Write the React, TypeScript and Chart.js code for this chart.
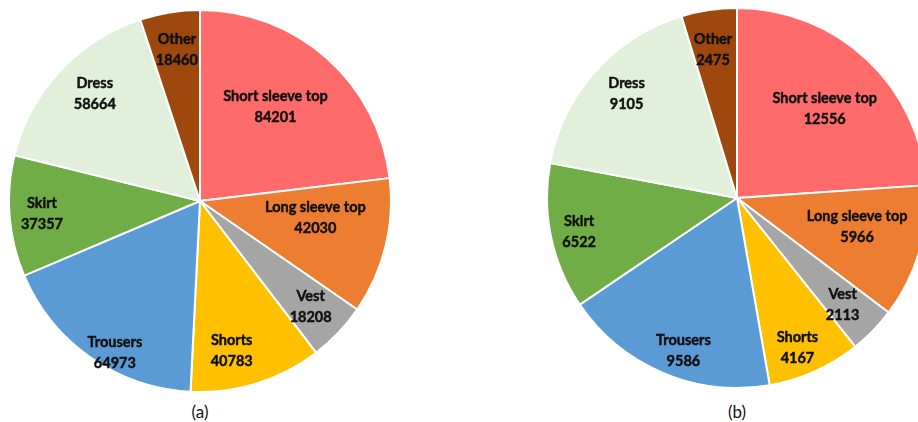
import React, { useEffect, useRef } from "react";
import { Chart, registerables } from "chart.js";
Chart.register(...registerables);

const categories = ["Short sleeve top", "Long sleeve top", "Vest", "Shorts", "Trousers", "Skirt", "Dress", "Other"];
const valuesA = [84201, 42030, 18208, 40783, 64973, 37357, 58664, 18460];
const valuesB = [12556, 5966, 2113, 4167, 9586, 6522, 9105, 2475];
const panelLabels = ["(a)", "(b)"];
const sliceColors = ["#FF6B6B", "#ED7D31", "#A5A5A5", "#FFC000", "#5B9BD5", "#70AD47", "#E2EFDA", "#9E480E"];

// label placement (radius fraction, angle offset in degrees) per slice
const labelRadiiA = [0.63, 0.61, 0.8, 0.8, 0.91, 0.83, 0.785, 0.8];
const labelAngleA = [-2.7, -5.8, 0, 5.3, -5.6, 0, 2.6, 0.4];
const labelRadiiB = [0.66, 0.65, 0.79, 0.85, 0.85, 0.85, 0.8, 0.79];
const labelAngleB = [1.3, -3.1, 1, 2.2, -3.6, -0.4, 1.6, -0.7];

function makeLabelPlugin(radii: number[], angles: number[]) {
  return {
    id: "sliceLabels",
    afterDatasetsDraw(chart: any) {
      const ctx = chart.ctx;
      const meta = chart.getDatasetMeta(0);
      const values = chart.data.datasets[0].data as number[];
      const labels = chart.data.labels as string[];
      meta.data.forEach((arc: any, i: number) => {
        const p = arc.getProps(["x", "y", "startAngle", "endAngle", "outerRadius"], true);
        const mid = (p.startAngle + p.endAngle) / 2 + (angles[i] * Math.PI) / 180;
        const r = p.outerRadius * radii[i];
        const x = p.x + Math.cos(mid) * r;
        const y = p.y + Math.sin(mid) * r;
        ctx.save();
        ctx.font = "bold 14.5px Lato, 'Open Sans', sans-serif";
        ctx.fillStyle = "#111111";
        ctx.strokeStyle = "#111111";
        ctx.lineWidth = 0.45;
        ctx.textAlign = "center";
        ctx.textBaseline = "middle";
        ctx.fillText(labels[i], x, y - 10.5);
        ctx.strokeText(labels[i], x, y - 10.5);
        ctx.fillText(String(values[i]), x, y + 10.5);
        ctx.strokeText(String(values[i]), x, y + 10.5);
        ctx.restore();
      });
    },
  };
}

function PieCanvas(props: { values: number[]; radii: number[]; angles: number[]; size: number; left: number; top: number }) {
  const ref = useRef<HTMLCanvasElement>(null);
  useEffect(() => {
    if (!ref.current) return;
    const chart = new Chart(ref.current, {
      type: "pie",
      data: {
        labels: categories,
        datasets: [
          {
            data: props.values,
            backgroundColor: sliceColors,
            borderColor: "#ffffff",
            borderWidth: 2,
          },
        ],
      },
      options: {
        animation: false,
        responsive: false,
        devicePixelRatio: 1,
        layout: { padding: 0 },
        plugins: { legend: { display: false }, tooltip: { enabled: false } },
      },
      plugins: [makeLabelPlugin(props.radii, props.angles)],
    });
    return () => chart.destroy();
  }, []);
  return (
    <canvas
      ref={ref}
      width={props.size}
      height={props.size}
      style={{ position: "absolute", left: props.left, top: props.top, width: props.size, height: props.size }}
    />
  );
}

const panelStyle = (left: number): React.CSSProperties => ({
  position: "absolute",
  left,
  top: 402,
  width: 60,
  textAlign: "center",
  font: "17px Lato, 'Open Sans', sans-serif",
  lineHeight: "20px",
  color: "#111",
});

export default function App() {
  return (
    <div
      style={{
        position: "fixed",
        left: 0,
        top: 0,
        width: 918,
        height: 422,
        overflow: "hidden",
        background: "#ffffff",
      }}
    >
      <PieCanvas values={valuesA} radii={labelRadiiA} angles={labelAngleA} size={384} left={8} top={9} />
      <PieCanvas values={valuesB} radii={labelRadiiB} angles={labelAngleB} size={382} left={546} top={7} />
      <div style={panelStyle(170)}>{panelLabels[0]}</div>
      <div style={panelStyle(707)}>{panelLabels[1]}</div>
    </div>
  );
}
